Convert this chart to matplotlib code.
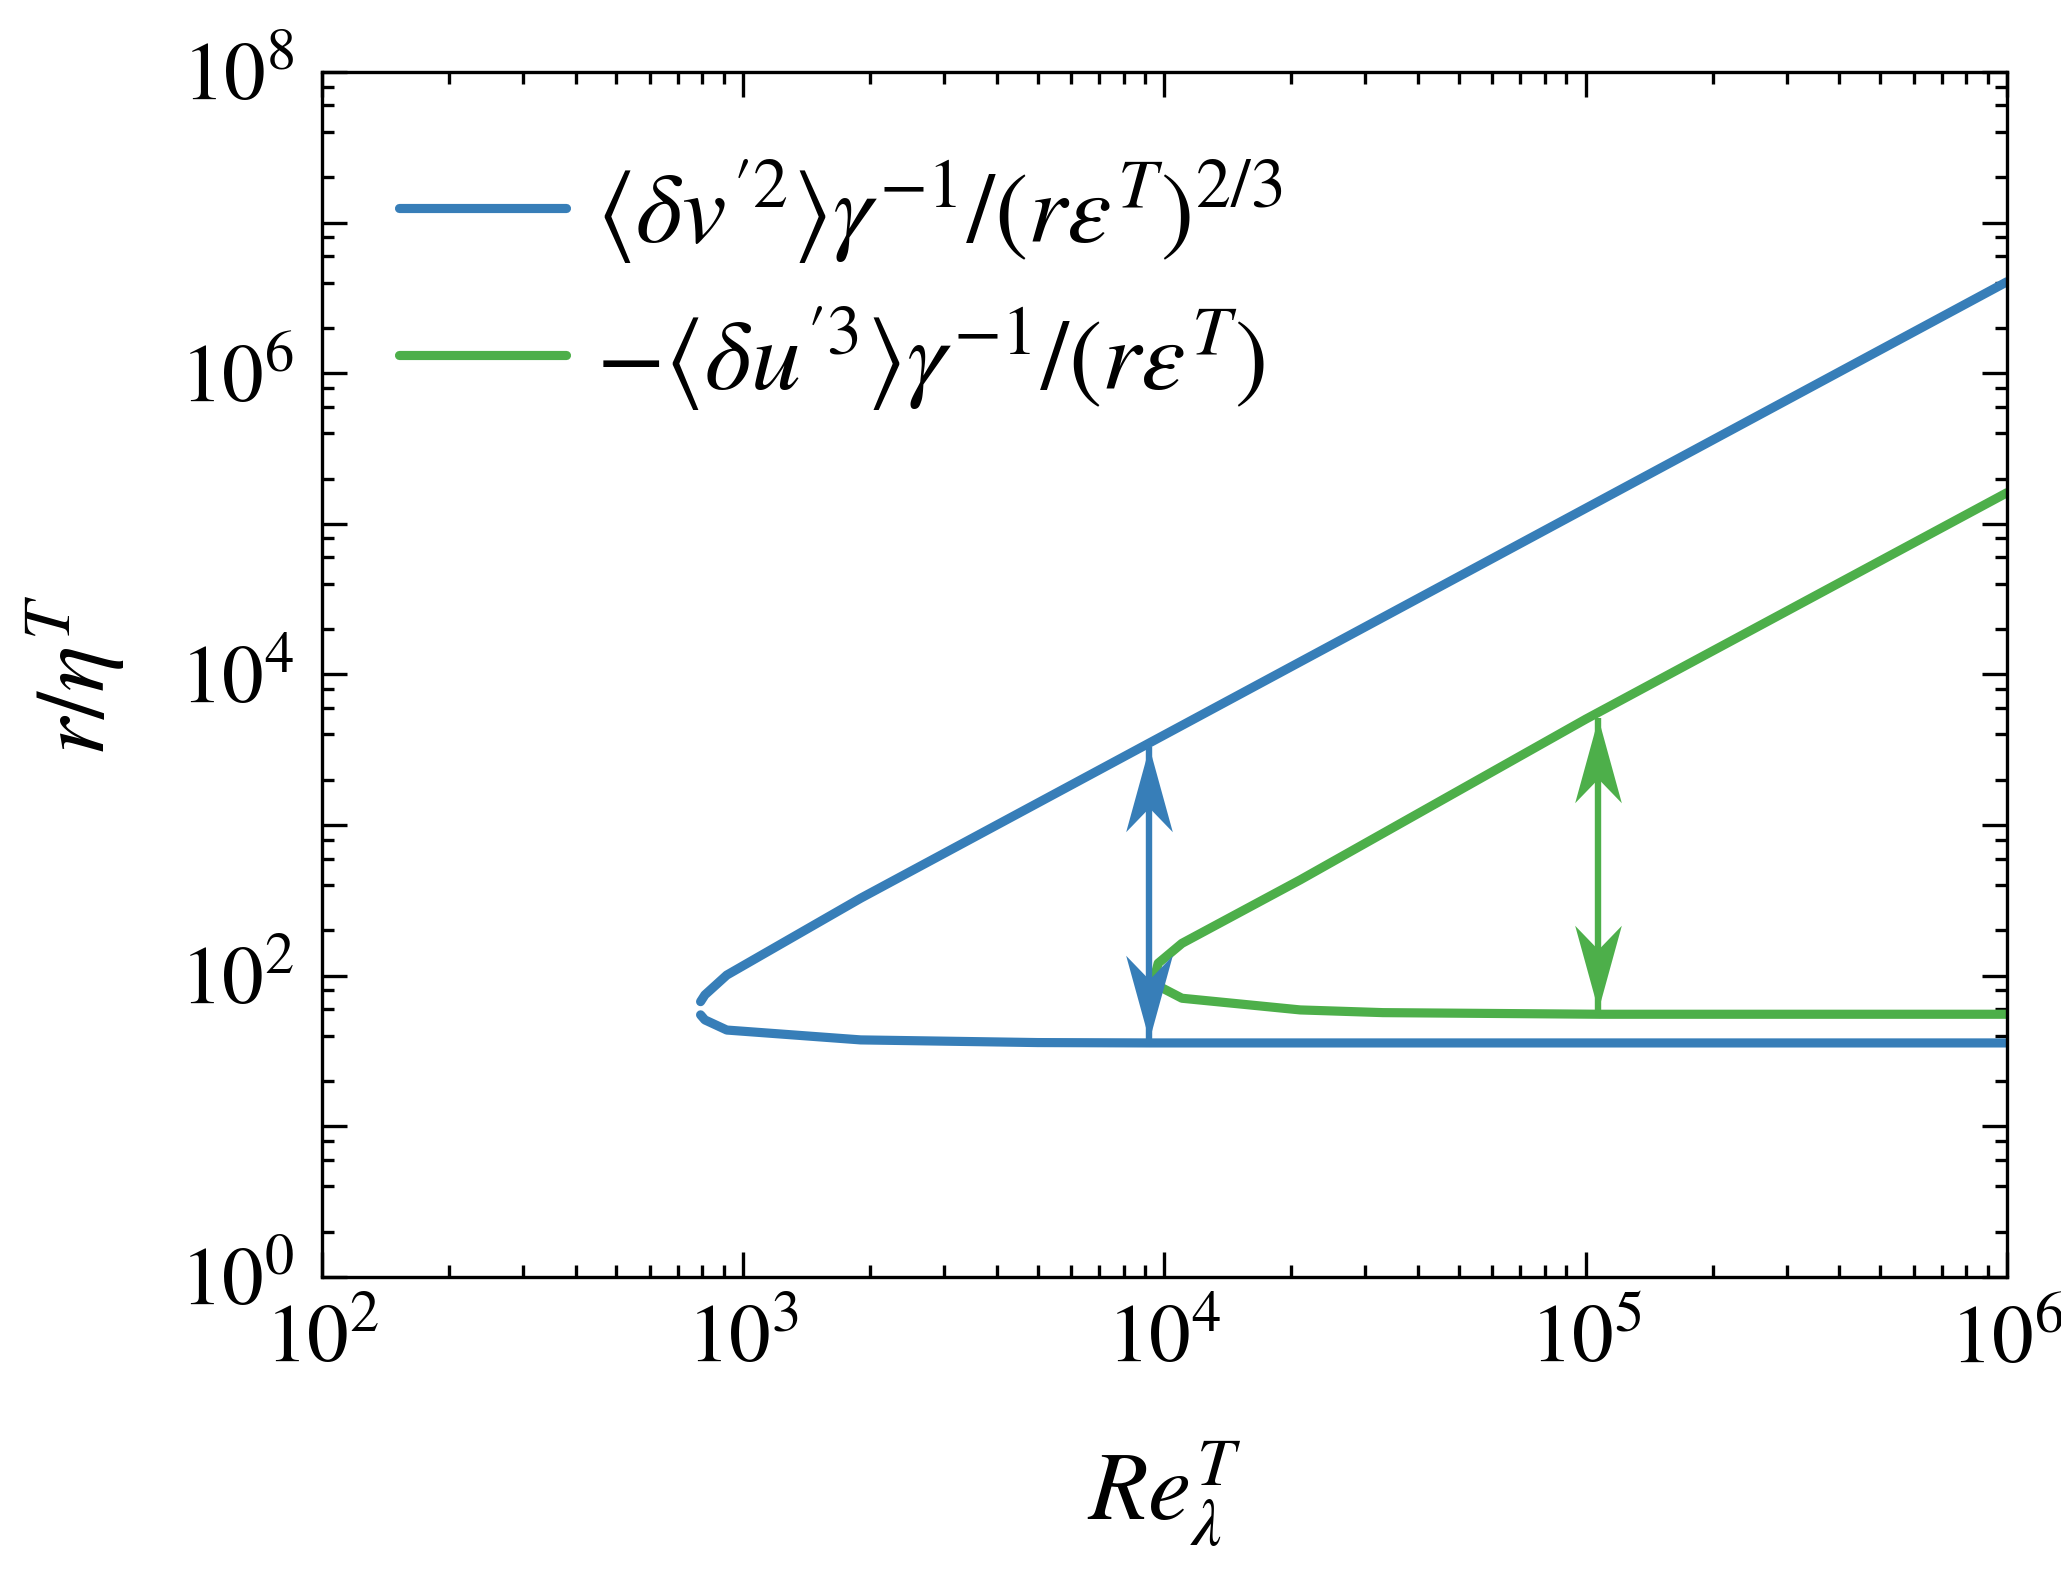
import numpy as np
import matplotlib
matplotlib.use("Agg")
import matplotlib.pyplot as plt
from matplotlib.path import Path
from matplotlib.ticker import FixedLocator, FuncFormatter, LogLocator, NullFormatter

plt.rcParams["font.family"] = "STIXGeneral"
plt.rcParams["mathtext.fontset"] = "stix"

BLUE = "#377eb8"
GREEN = "#4daf4a"

# <dv'^2> curve: upper and lower branches
blue_up_re = [792, 811, 914, 1900, 1e6]
blue_up_r = [67.3, 74.6, 101, 327, 4.05e6]
blue_lo_re = [792, 811, 914, 1900, 5000, 9200, 1e6]
blue_lo_r = [55, 50.9, 43.6, 37.5, 36.0, 35.8, 35.8]

# -<du'^3> curve
green_up_re = [9480, 9660, 1.1e4, 2.1e4, 1e5, 1e6]
green_up_r = [98.6, 121, 164, 433, 5050, 1.61e5]
green_lo_re = [9480, 1.1e4, 2.1e4, 3.3e4, 1.08e5, 1e6]
green_lo_r = [88, 70.9, 59.3, 56.9, 55.5, 55.5]

# double arrows marking the inertial range extent
arrow_re = [9200, 1.07e5]
arrow_top = [3300, 5150]
arrow_bot = [37.5, 59]
arrow_col = [BLUE, GREEN]

fig = plt.figure(figsize=(10.305, 7.915), dpi=200)
ax = fig.add_axes([0.15623, 0.19331, 0.81756, 0.76121])

lw = 3.3
ax.plot(blue_up_re, blue_up_r, color=BLUE, lw=lw, solid_capstyle="round",
        label=r"$\langle \delta v^{\prime 2} \rangle \gamma^{-1}/(r\varepsilon^T)^{2/3}$")
ax.plot(blue_lo_re, blue_lo_r, color=BLUE, lw=lw, solid_capstyle="round")
ax.plot(green_lo_re[::-1] + green_up_re, green_lo_r[::-1] + green_up_r, color=GREEN, lw=lw,
        solid_capstyle="round",
        label=r"$-\langle \delta u^{\prime 3} \rangle \gamma^{-1}/(r\varepsilon^T)$")

# swept-back arrow heads, tip at origin
head_up = Path([(0, 0), (8.4, -30.5), (0, -21.8), (-8.4, -30.5), (0, 0)],
               [Path.MOVETO, Path.LINETO, Path.LINETO, Path.LINETO, Path.CLOSEPOLY])
head_dn = Path([(0, 0), (8.4, 30.5), (0, 21.8), (-8.4, 30.5), (0, 0)],
               [Path.MOVETO, Path.LINETO, Path.LINETO, Path.LINETO, Path.CLOSEPOLY])
for x, yt, yb, c in zip(arrow_re, arrow_top, arrow_bot, arrow_col):
    ax.plot([x, x], [yb, yt], color=c, lw=2.3, solid_capstyle="butt")
    ax.plot([x], [yt], marker=head_up, ms=61, mew=0, color=c, ls="none")
    ax.plot([x], [yb], marker=head_dn, ms=61, mew=0, color=c, ls="none")

ax.set_xscale("log")
ax.set_yscale("log")
ax.set_xlim(1e2, 1e6)
ax.set_ylim(1e0, 1e8)

ax.yaxis.set_major_locator(FixedLocator([10.0 ** k for k in range(0, 9)]))
ax.yaxis.set_major_formatter(FuncFormatter(
    lambda v, p: r"$10^{%d}$" % round(np.log10(v)) if round(np.log10(v)) % 2 == 0 else ""))
ax.yaxis.set_minor_locator(LogLocator(base=10, subs=[2, 4, 6, 8], numticks=20))
ax.yaxis.set_minor_formatter(NullFormatter())
ax.xaxis.set_major_locator(FixedLocator([10.0 ** k for k in range(2, 7)]))
ax.xaxis.set_major_formatter(FuncFormatter(lambda v, p: r"$10^{%d}$" % round(np.log10(v))))
ax.xaxis.set_minor_locator(LogLocator(base=10, subs=np.arange(2, 10), numticks=20))
ax.xaxis.set_minor_formatter(NullFormatter())

ax.tick_params(which="both", direction="in", top=True, right=True, width=1.2, labelsize=30)
ax.tick_params(which="major", length=9, pad=10)
ax.tick_params(which="minor", length=4.3)
for s in ax.spines.values():
    s.set_linewidth(1.2)

ax.set_xlabel(r"$Re_\lambda^T$", fontsize=35, labelpad=21)
ax.set_ylabel(r"$r/\eta^T$", fontsize=35, labelpad=19)

ax.legend(loc="upper left", bbox_to_anchor=(0.022, 0.962), frameon=False, fontsize=36,
          handlelength=1.67, handletextpad=0.3, labelspacing=0.38, borderaxespad=0)

fig.savefig("out.png", dpi=200)
